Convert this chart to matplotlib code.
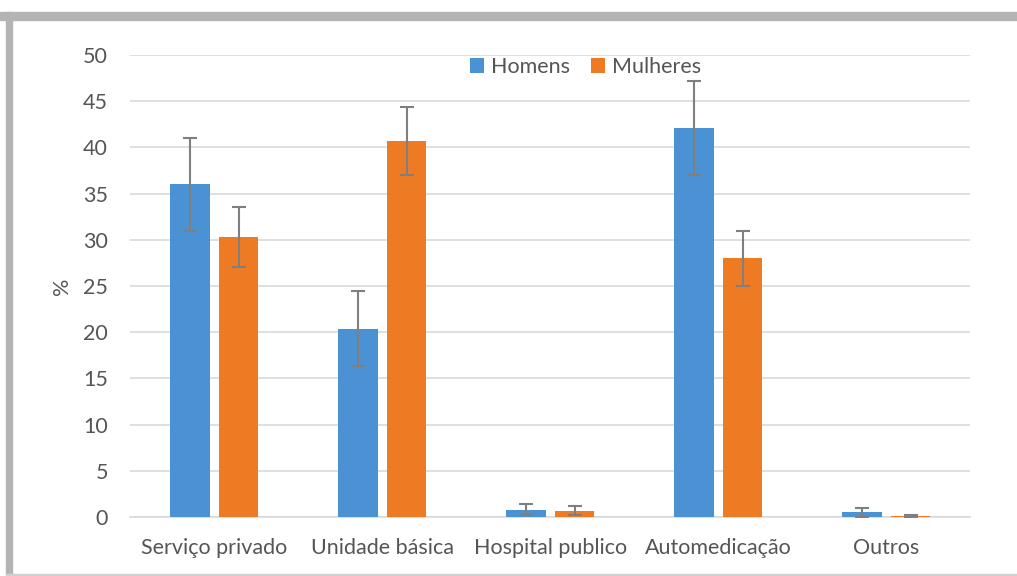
import matplotlib.pyplot as plt
import numpy as np
from matplotlib.patches import Rectangle

categories = ["Serviço privado", "Unidade básica", "Hospital publico", "Automedicação", "Outros"]
homens = [36.0, 20.4, 0.8, 42.1, 0.5]
homens_err = [5.0, 4.1, 0.6, 5.1, 0.5]
mulheres = [30.3, 40.7, 0.7, 28.0, 0.1]
mulheres_err = [3.2, 3.7, 0.5, 3.0, 0.15]

plt.rcParams['font.family'] = ['Lato', 'DejaVu Sans']
text_color = "#555555"

fig = plt.figure(figsize=(10.17, 5.76), dpi=100)
ax = fig.add_axes([0.128, 0.1024, 0.826, 0.8021])

x = np.arange(len(categories))
w = 0.235
err_kw = dict(ecolor="#7f7f7f", elinewidth=1.5, capsize=5, capthick=1.5)
ax.bar(x - 0.145, homens, w, yerr=homens_err, color="#4a92d4", label="Homens", error_kw=err_kw, zorder=3)
ax.bar(x + 0.145, mulheres, w, yerr=mulheres_err, color="#ee7a24", label="Mulheres", error_kw=err_kw, zorder=3)

ax.set_xlim(-0.5, len(categories) - 0.5)
ax.set_ylim(0, 50)
ax.set_yticks(range(0, 51, 5))
ax.set_xticks(x)
ax.set_xticklabels(categories)
ax.grid(axis="y", color="#d9d9d9", linewidth=1.2, zorder=0)
for s in ["top", "right", "left"]:
    ax.spines[s].set_visible(False)
ax.spines["bottom"].set_color("#d9d9d9")
ax.spines["bottom"].set_linewidth(1.2)
ax.tick_params(axis="both", length=0, labelsize=15.5, colors=text_color)
ax.tick_params(axis="x", pad=15)
ax.tick_params(axis="y", pad=16)
ax.set_ylabel("%", fontsize=15.5, color=text_color, labelpad=8)

ax.legend(loc="center", bbox_to_anchor=(0.542, 0.974), ncol=2, frameon=False,
          fontsize=15.5, labelcolor=text_color, handlelength=0.65, handleheight=0.65,
          handletextpad=0.3, columnspacing=1.0)

# outer frame
fig.patches.append(Rectangle((0, 0.965), 1, 0.014, transform=fig.transFigure, color="#b4b4b4", zorder=0))
fig.patches.append(Rectangle((0.006, 0.0), 0.006, 0.979, transform=fig.transFigure, color="#b4b4b4", zorder=0))
fig.patches.append(Rectangle((0.006, 0.0), 0.994, 0.004, transform=fig.transFigure, color="#d0d0d0", zorder=0))

fig.savefig("out.png", dpi=100)
